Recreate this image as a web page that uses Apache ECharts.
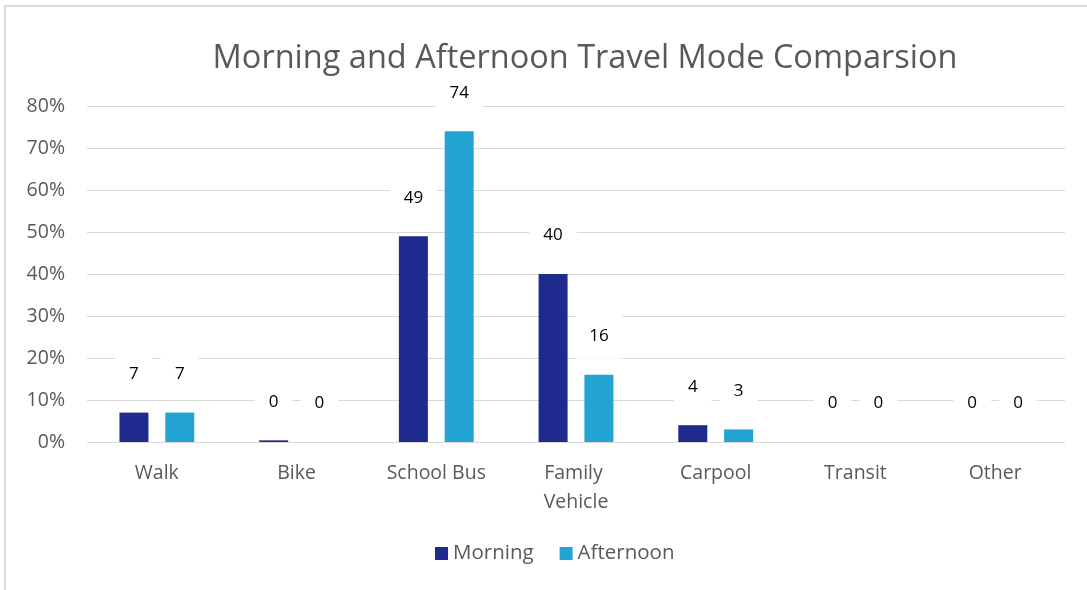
<!DOCTYPE html>
<html>
<head>
<meta charset="utf-8">
<script src="https://cdn.jsdelivr.net/npm/echarts@6/dist/echarts.min.js"></script>
<style>
html,body{margin:0;padding:0;background:#fff;}
#chart{width:1087px;height:590px;}
</style>
</head>
<body>
<div id="chart"></div>
<script>
const categories = ['Walk', 'Bike', 'School Bus', 'Family Vehicle', 'Carpool', 'Transit', 'Other'];
const morning = [7, 0.4, 49, 40, 4, 0, 0];
const afternoon = [7, 0, 74, 16, 3, 0, 0];
const yTicks = [0, 10, 20, 30, 40, 50, 60, 70, 80];
const titleText = 'Morning and Afternoon Travel Mode Comparsion';

const FONT = 'Open Sans';
const chart = echarts.init(document.getElementById('chart'), null, {renderer: 'canvas'});

const labelCfg = {
  show: true,
  position: 'top',
  distance: 16,
  formatter: p => String(Math.round(p.value)),
  color: '#000',
  fontFamily: FONT,
  fontSize: 17,
  backgroundColor: '#fff',
  padding: [12, 14, 14, 14]
};

chart.setOption({
  animation: false,
  backgroundColor: '#fff',
  graphic: [{
    type: 'rect',
    shape: {x: 5, y: 6, width: 1200, height: 700},
    style: {fill: 'none', stroke: '#d9d9d9', lineWidth: 2},
    silent: true
  }],
  title: {
    text: titleText,
    left: 580,
    top: 37,
    textAlign: 'center',
    textStyle: {fontFamily: FONT, fontSize: 32.5, fontWeight: 'normal', color: '#595959'}
  },
  legend: {
    bottom: 21,
    left: 430,
    itemWidth: 13,
    itemHeight: 13,
    itemGap: 26,
    icon: 'rect',
    textStyle: {fontFamily: FONT, fontSize: 20.5, color: '#595959'},
    data: ['Morning', 'Afternoon']
  },
  grid: {left: 87, right: 22, top: 106, bottom: 148, containLabel: false},
  xAxis: {
    type: 'category',
    data: categories,
    axisLine: {show: false},
    axisTick: {show: false},
    axisLabel: {
      interval: 0,
      fontFamily: FONT, fontSize: 19.5, color: '#595959', margin: 17,
      width: 120, overflow: 'break', lineHeight: 29
    }
  },
  yAxis: {
    type: 'value',
    min: yTicks[0],
    max: yTicks[yTicks.length - 1],
    interval: 10,
    axisLine: {show: false},
    axisTick: {show: false},
    axisLabel: {fontFamily: FONT, fontSize: 19.5, color: '#595959', margin: 22, formatter: '{value}%'},
    splitLine: {lineStyle: {color: '#d9d9d9', width: 1}}
  },
  series: [
    {
      name: 'Morning', type: 'bar', data: morning,
      itemStyle: {color: '#1F2A8E'},
      barWidth: 29, barGap: '58%',
      label: labelCfg
    },
    {
      name: 'Afternoon', type: 'bar', data: afternoon,
      itemStyle: {color: '#21A4D2'},
      barWidth: 29, barGap: '58%',
      label: labelCfg
    }
  ]
});
</script>
</body>
</html>
